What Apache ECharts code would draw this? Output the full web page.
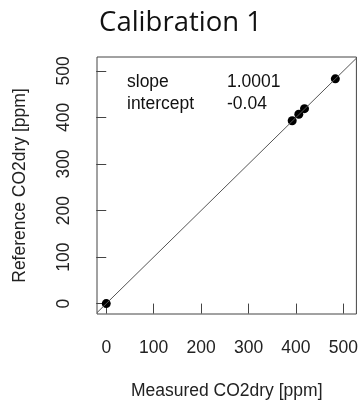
<!DOCTYPE html>
<html>
<head>
<meta charset="utf-8">
<script src="https://cdn.jsdelivr.net/npm/echarts@6/dist/echarts.min.js"></script>
<style>
  html, body {margin: 0; padding: 0; background: #fff;}
  #chart {width: 361px; height: 405px;}
</style>
</head>
<body>
<div id="chart"></div>
<script>
// measured vs reference CO2dry, ppm
const measured = [0, 392, 406, 418, 483];
const reference = [0, 393, 407, 419, 483];
const tickValues = [0, 100, 200, 300, 400, 500];
const slope = 1.0001;
const intercept = -0.04;

const xRange = [-19.5, 527.4];
const yRange = [-22.4, 530];

const font = 'Liberation Sans, Arial, sans-serif';

const points = measured.map((m, i) => [m, reference[i]]);
// regression line drawn across the whole plot box
const fitLine = xRange.map(x => [x, slope * x + intercept]);

const chart = echarts.init(document.getElementById('chart'));
chart.setOption({
  animation: false,
  title: {
    text: 'Calibration 1',
    left: 'center',
    top: 4,
    textStyle: {fontFamily: 'Open Sans', fontWeight: 'normal', fontSize: 27.5, color: '#111'}
  },
  grid: {
    left: 97, top: 57, width: 261, height: 261,
    show: true, borderColor: '#444', borderWidth: 1
  },
  xAxis: {
    type: 'value',
    min: xRange[0], max: xRange[1],
    name: 'Measured CO2dry [ppm]',
    nameLocation: 'middle',
    nameGap: 68,
    nameTextStyle: {fontFamily: font, fontSize: 17.5, color: '#222'},
    axisLine: {show: false},
    splitLine: {show: false},
    axisTick: {show: true, length: 10, customValues: tickValues, lineStyle: {color: '#444'}},
    axisLabel: {customValues: tickValues, margin: 25, fontFamily: font, fontSize: 17.5, color: '#222'}
  },
  yAxis: {
    type: 'value',
    min: yRange[0], max: yRange[1],
    name: 'Reference CO2dry [ppm]',
    nameLocation: 'middle',
    nameGap: 68,
    nameTextStyle: {fontFamily: font, fontSize: 17.5, color: '#222'},
    axisLine: {show: false},
    splitLine: {show: false},
    axisTick: {show: true, length: 10, customValues: tickValues, lineStyle: {color: '#444'}},
    axisLabel: {customValues: tickValues, rotate: 90, margin: 24, fontFamily: font, fontSize: 17.5, color: '#222'}
  },
  graphic: [
    {type: 'text', left: 127, top: 73, style: {text: 'slope', font: '17.5px ' + font, fill: '#111'}},
    {type: 'text', left: 227, top: 73, style: {text: slope.toFixed(4), font: '17.5px ' + font, fill: '#111'}},
    {type: 'text', left: 127, top: 95, style: {text: 'intercept', font: '17.5px ' + font, fill: '#111'}},
    {type: 'text', left: 227, top: 95, style: {text: intercept.toFixed(2), font: '17.5px ' + font, fill: '#111'}}
  ],
  series: [
    {
      type: 'line',
      data: fitLine,
      symbol: 'none',
      clip: true,
      lineStyle: {color: '#555', width: 1}
    },
    {
      type: 'scatter',
      data: points,
      symbolSize: 9,
      itemStyle: {color: '#000', opacity: 1}
    }
  ]
});
</script>
</body>
</html>
